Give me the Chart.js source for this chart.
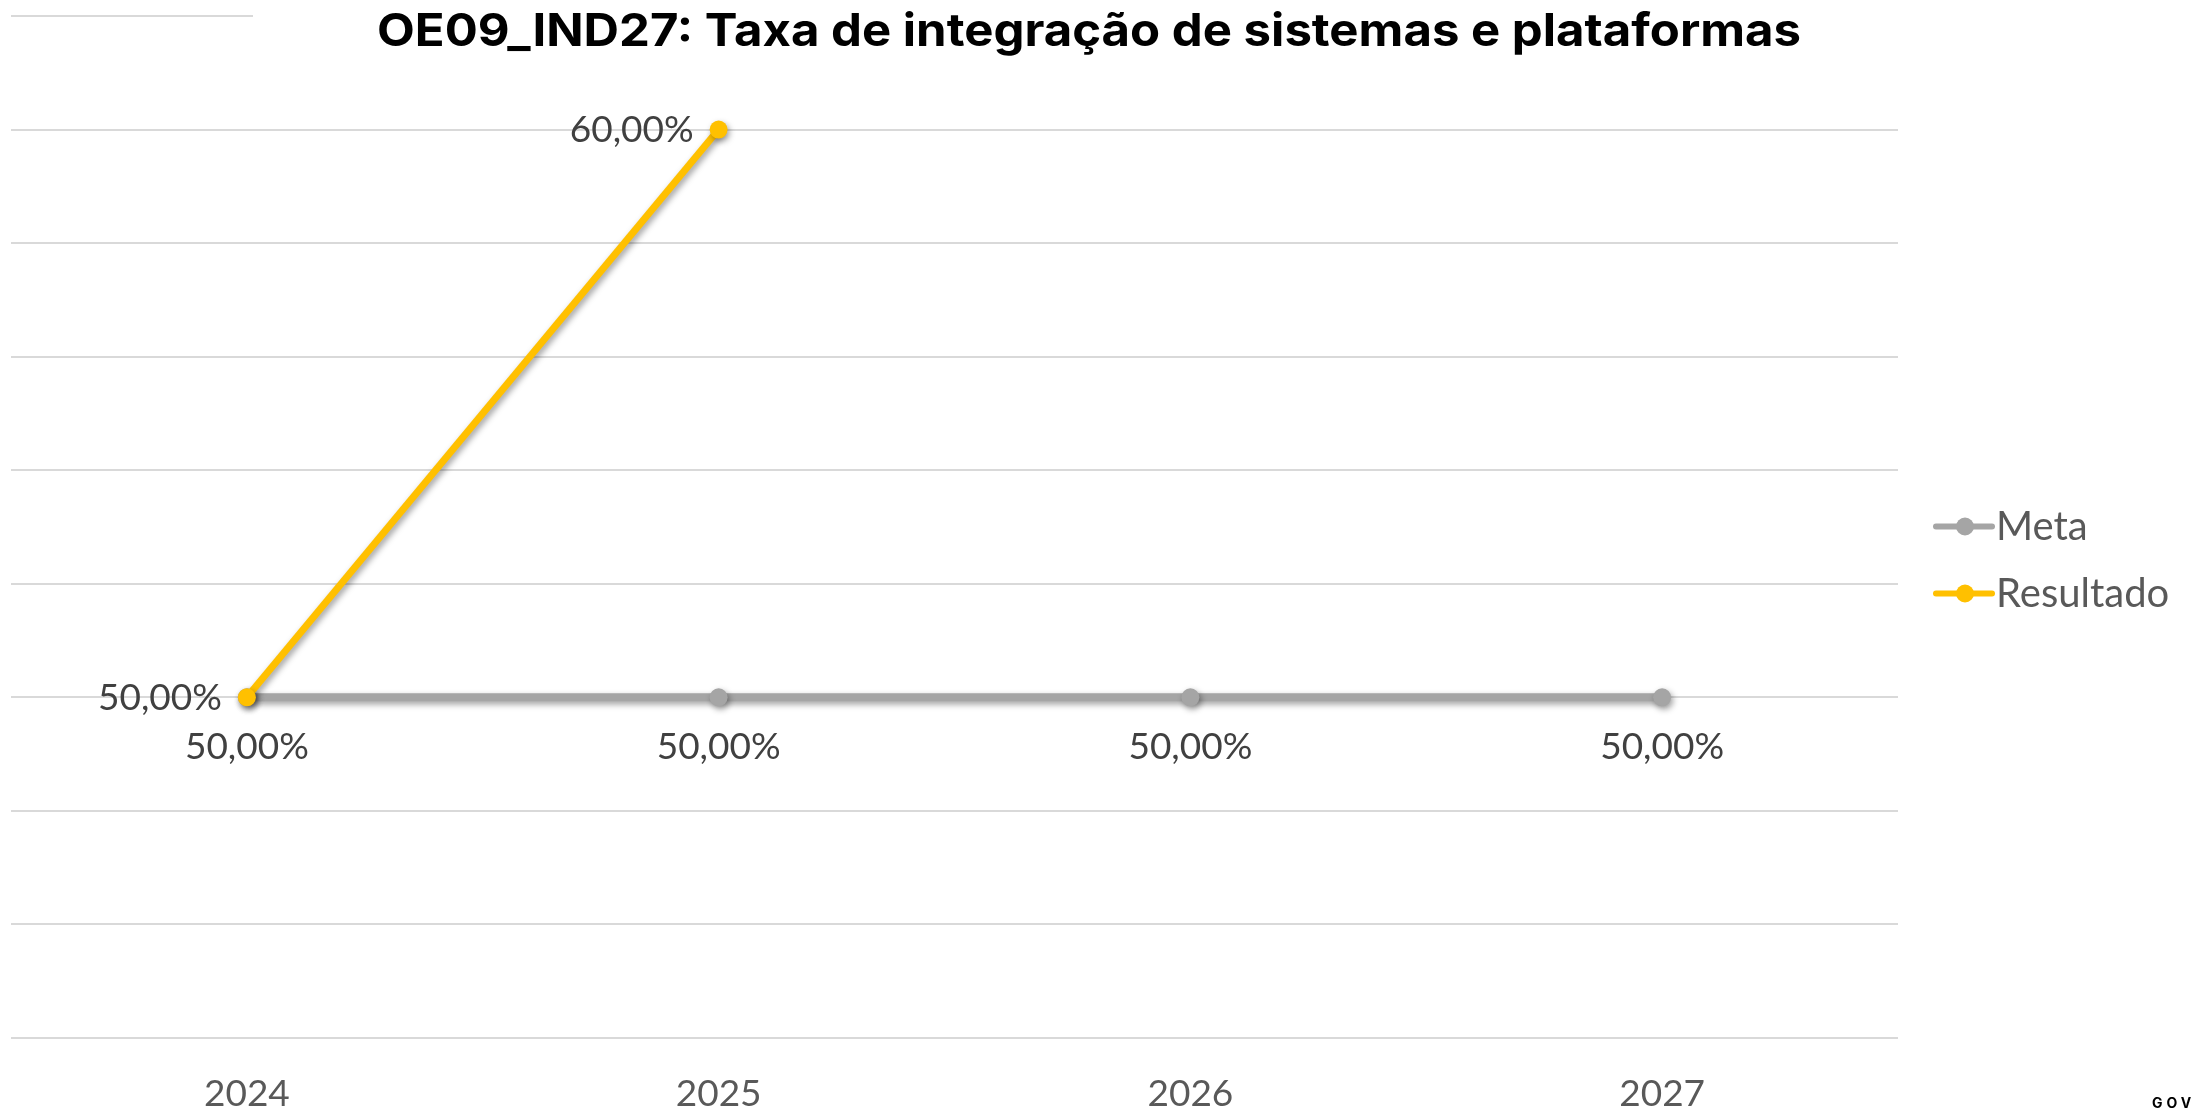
<!DOCTYPE html>
<html lang="pt">
<head>
<meta charset="utf-8">
<title>OE09_IND27: Taxa de integração de sistemas e plataformas</title>
<script src="https://cdn.jsdelivr.net/npm/chart.js@4/dist/chart.umd.min.js"></script>
<style>
  html, body { margin: 0; padding: 0; background: #ffffff; }
  #wrap { width: 2193px; height: 1110px; position: relative; }
  canvas { display: block; }
</style>
</head>
<body>
<div id="wrap"><canvas id="chart" width="2193" height="1110"></canvas></div>
<script>
// Indicator data
const chartTitle = 'OE09_IND27: Taxa de integração de sistemas e plataformas';
const years = ['2024', '2025', '2026', '2027'];
const metaValues = [50, 50, 50, 50];
const resultadoValues = [50, 60, null, null];
const seriesNames = ['Meta', 'Resultado'];
const seriesColors = ['#A5A5A5', '#FFC000'];
const footerText = 'GOV';

const pct = v => v.toFixed(2).replace('.', ',') + '%';

// Shadow under each series line
const lineShadow = {
  id: 'lineShadow',
  beforeDatasetDraw(chart) {
    const ctx = chart.ctx;
    ctx.save();
    ctx.shadowColor = 'rgba(0,0,0,0.38)';
    ctx.shadowBlur = 6;
    ctx.shadowOffsetX = 2;
    ctx.shadowOffsetY = 3;
  },
  afterDatasetDraw(chart) {
    chart.ctx.restore();
  }
};

// Title box (white background over the top gridline) and value labels
const decorations = {
  id: 'decorations',
  beforeDatasetsDraw(chart) {
    const ctx = chart.ctx;
    const area = chart.chartArea;
    ctx.save();
    ctx.fillStyle = '#ffffff';
    ctx.fillRect(253, 0, area.right - 253 + 4, 60);
    ctx.font = 'bold 45px Inter, "Noto Sans", sans-serif';
    const w = ctx.measureText(chartTitle).width;
    const targetW = 1424;
    const left = 377;
    ctx.translate(left, 46);
    ctx.scale(targetW / w, 1);
    ctx.fillStyle = '#000000';
    ctx.textAlign = 'left';
    ctx.textBaseline = 'alphabetic';
    ctx.fillText(chartTitle, 0, 0);
    ctx.restore();
  },
  afterDatasetsDraw(chart) {
    const ctx = chart.ctx;
    ctx.save();
    ctx.font = '37px Lato, "Open Sans", sans-serif';
    ctx.fillStyle = '#404040';
    ctx.textBaseline = 'middle';
    chart.data.datasets.forEach((ds, di) => {
      const meta = chart.getDatasetMeta(di);
      meta.data.forEach((pt, i) => {
        const v = ds.data[i];
        if (v === null || v === undefined) return;
        if (di === 0) {
          ctx.textAlign = 'center';
          ctx.fillText(pct(v), pt.x, pt.y + 50);
        } else {
          ctx.textAlign = 'right';
          ctx.fillText(pct(v), pt.x - 25, pt.y + 1);
        }
      });
    });
    ctx.restore();
  },
  afterDraw(chart) {
    const ctx = chart.ctx;
    const area = chart.chartArea;
    ctx.save();
    // Legend
    const mid = (area.top + area.bottom) / 2 + 33;
    const rows = [mid - 33.5, mid + 33.5];
    chart.data.datasets.forEach((ds, di) => {
      const y = rows[di];
      const x0 = area.right + 38;
      ctx.strokeStyle = ds.borderColor;
      ctx.lineWidth = 6;
      ctx.lineCap = 'round';
      ctx.beginPath();
      ctx.moveTo(x0, y);
      ctx.lineTo(x0 + 56, y);
      ctx.stroke();
      ctx.fillStyle = ds.borderColor;
      ctx.beginPath();
      ctx.arc(x0 + 29, y, 9, 0, Math.PI * 2);
      ctx.fill();
      ctx.fillStyle = '#595959';
      ctx.font = '40px Lato, "Open Sans", sans-serif';
      ctx.textAlign = 'left';
      ctx.textBaseline = 'middle';
      ctx.fillText(ds.label, x0 + 60, y + 1);
    });
    // Footer mark
    ctx.fillStyle = '#000000';
    ctx.font = 'bold 14px Inter, sans-serif';
    ctx.textAlign = 'left';
    ctx.textBaseline = 'alphabetic';
    if ('letterSpacing' in ctx) ctx.letterSpacing = '4px';
    ctx.fillText(footerText, 2152, 1108);
    ctx.restore();
  }
};

new Chart(document.getElementById('chart'), {
  type: 'line',
  data: {
    labels: years,
    datasets: [
      {
        label: seriesNames[0],
        data: metaValues,
        borderColor: seriesColors[0],
        backgroundColor: seriesColors[0],
        borderWidth: 8,
        pointRadius: 9,
        pointBorderWidth: 0,
        pointBackgroundColor: seriesColors[0],
        tension: 0,
        order: 1
      },
      {
        label: seriesNames[1],
        data: resultadoValues,
        borderColor: seriesColors[1],
        backgroundColor: seriesColors[1],
        borderWidth: 7,
        pointRadius: 9,
        pointBorderWidth: 0,
        pointBackgroundColor: seriesColors[1],
        tension: 0,
        spanGaps: false,
        order: 0
      }
    ]
  },
  options: {
    responsive: false,
    animation: false,
    events: [],
    layout: { padding: { left: 11, top: 16, right: 295, bottom: 0 } },
    plugins: {
      legend: { display: false },
      title: { display: false },
      tooltip: { enabled: false }
    },
    scales: {
      x: {
        offset: true,
        grid: { display: false, drawTicks: false },
        border: { display: false },
        ticks: {
          color: '#595959',
          font: { family: 'Lato, "Open Sans", sans-serif', size: 37 },
          padding: 34
        },
        afterFit(scale) { scale.height = 72; }
      },
      y: {
        min: 44,
        max: 62,
        ticks: { display: false, stepSize: 2 },
        grid: { color: '#D9D9D9', lineWidth: 2, drawTicks: false },
        border: { display: false },
        afterFit(scale) { scale.width = 0; }
      }
    }
  },
  plugins: [lineShadow, decorations]
});
</script>
</body>
</html>
